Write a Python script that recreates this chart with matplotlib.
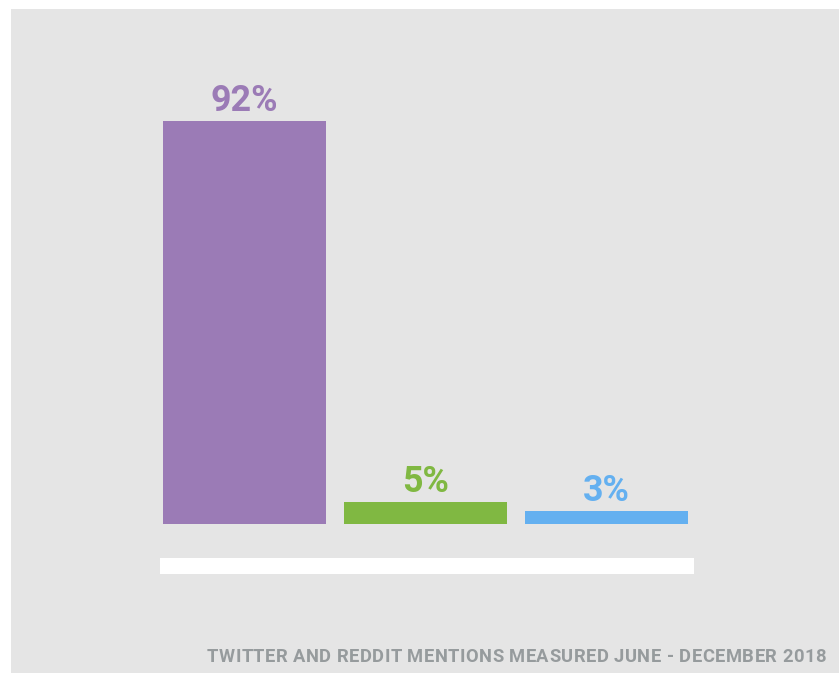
import matplotlib
matplotlib.use('Agg')
from matplotlib import pyplot, font_manager, ft2font
from matplotlib.font_manager import FontProperties

categories = ['A', 'B', 'C']
shares = [92, 5, 3]
labels = ['92%', '5%', '3%']
colors = ['#9b7bb6', '#80b842', '#64b0f0']
footer = 'TWITTER AND REDDIT MENTIONS MEASURED JUNE - DECEMBER 2018'

W, H = 839, 673
fig = pyplot.figure(figsize=(W / 100, H / 100), dpi=100, facecolor='white')
# grey panel fills the figure apart from a thin white strip at the top and left
ax = fig.add_axes([11 / W, 0, 1 - 11 / W, 1 - 9 / H], facecolor='#e5e5e5')

x = list(range(len(categories)))
bars = ax.bar(x, shares, width=0.9, color=colors)
for bar, lab, col in zip(bars, labels, colors):
    h = bar.get_height()
    ax.annotate(lab, xy=(bar.get_x() + bar.get_width() / 2, h), xytext=(0, 7),
                textcoords='offset points', ha='center', va='baseline',
                fontsize=25.8, fontweight='bold', family='Roboto', color=col)

# 181 px per category, 4.38 px per percent
ax.set_xlim(-1.290, 3.285)
ax.set_ylim(-34.0, 117.6)

# white strip under the bars
ax.axhspan(-11.4, -7.8, xmin=(160 - 11) / 828, xmax=(694 - 11) / 828, color='white', lw=0)

for s in ax.spines.values():
    s.set_visible(False)
ax.set_xticks([])
ax.set_yticks([])

# footer with letter spacing: place glyphs one by one
fsize = 13.2
prop = FontProperties(family='Roboto', weight='bold', size=fsize)
font = ft2font.FT2Font(font_manager.findfont(prop))
font.set_size(fsize, 100)
advances = [font.load_char(ord(c)).linearHoriAdvance / 65536 for c in footer]
x0, x1 = 207, 826
track = ((x1 - x0) - sum(advances)) / (len(footer) - 1)
px = x0
for c, adv in zip(footer, advances):
    fig.text(px / W, 1 - 662 / H, c, ha='left', va='baseline', fontproperties=prop,
             color='#969b9d')
    px += adv + track

fig.savefig('out.png', dpi=100, facecolor='white')
